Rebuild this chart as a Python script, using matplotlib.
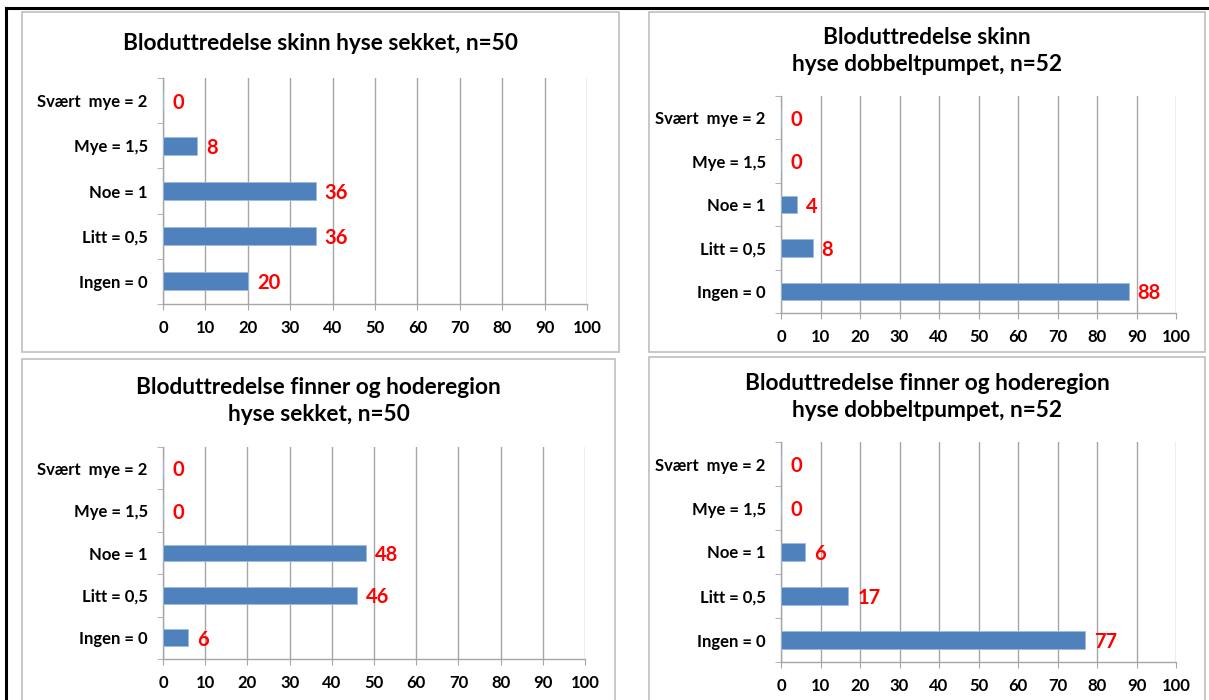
import matplotlib
matplotlib.use("Agg")
import matplotlib.pyplot as plt
from matplotlib.patches import Rectangle
from matplotlib.lines import Line2D

plt.rcParams['font.family'] = ['Lato', 'DejaVu Sans']

categories = ["Ingen = 0", "Litt = 0,5", "Noe = 1", "Mye = 1,5", "Svært  mye = 2"]
xticks = [0, 10, 20, 30, 40, 50, 60, 70, 80, 90, 100]

title1 = "Bloduttredelse skinn hyse sekket, n=50"
values1 = [20, 36, 36, 8, 0]
title2 = "Bloduttredelse skinn\nhyse dobbeltpumpet, n=52"
values2 = [88, 8, 4, 0, 0]
title3 = "Bloduttredelse finner og hoderegion\nhyse sekket, n=50"
values3 = [6, 46, 48, 0, 0]
title4 = "Bloduttredelse finner og hoderegion\nhyse dobbeltpumpet, n=52"
values4 = [77, 17, 6, 0, 0]

W, H = 1209, 700
fig = plt.figure(figsize=(W / 100, H / 100), dpi=100)
fig.patch.set_facecolor('white')

def fx(x):
    return x / W

def fy(y):
    return 1 - y / H

GRID = '#a6a6a6'
BOX = '#bfbfbf'
BAR = '#4f81bd'

# panel frames (left, top, right, bottom) in pixels
panels = [
    (22, 12, 619, 352),
    (649, 12, 1205, 352),
    (22, 359, 615, 705),
    (649, 357, 1205, 705),
]
for (x0, y0, x1, y1) in panels:
    fig.patches.append(Rectangle((fx(x0), fy(y1)), fx(x1) - fx(x0), fy(y0) - fy(y1),
                                 transform=fig.transFigure, fill=False,
                                 edgecolor=BOX, linewidth=1.2))

# outer black border (top and left)
fig.lines.append(Line2D([fx(6), 1.0], [fy(8), fy(8)], transform=fig.transFigure,
                        color='black', linewidth=2.2))
fig.lines.append(Line2D([fx(6), fx(6)], [fy(8), 0.0], transform=fig.transFigure,
                        color='black', linewidth=2.2))

specs = [
    # values, title, axes px (left, top, right, bottom), title centre (x, y)
    (values1, title1, (163, 78, 587, 304), ((22 + 619) / 2, 43)),
    (values2, title2, (781, 96, 1176, 313), ((649 + 1205) / 2, 51)),
    (values3, title3, (163, 447, 585, 659), ((22 + 615) / 2, 401)),
    (values4, title4, (781, 442, 1176, 662), ((649 + 1205) / 2, 397)),
]

for vals, title, (l, t, r, b), (tcx, tcy) in specs:
    ax = fig.add_axes([fx(l), fy(b), fx(r) - fx(l), fy(t) - fy(b)])
    ypos = list(range(len(categories)))
    ax.barh(ypos, vals, height=0.4, color=BAR, edgecolor='#9fbbdd', linewidth=0.6, zorder=3)
    ax.set_xlim(0, 100)
    ax.set_ylim(-0.5, len(categories) - 0.5)
    ax.set_xticks(xticks)
    ax.set_xticklabels([str(v) for v in xticks], fontsize=12, fontweight='bold')
    ax.set_yticks(ypos)
    ax.set_yticklabels(categories, fontsize=12, fontweight='bold')
    ax.set_yticks([i - 0.5 for i in range(len(categories) + 1)], minor=True)
    ax.tick_params(axis='y', which='major', length=0, pad=11)
    ax.tick_params(axis='y', which='minor', length=4, color=GRID, direction='out')
    ax.tick_params(axis='x', which='major', length=4.5, color=GRID, direction='out', pad=7)
    for sp in ['top', 'right']:
        ax.spines[sp].set_visible(False)
    for sp in ['left', 'bottom']:
        ax.spines[sp].set_color(GRID)
        ax.spines[sp].set_linewidth(1.0)
    ax.xaxis.grid(True, color=GRID, linewidth=1.0, zorder=0)
    ax.set_axisbelow(True)
    ax.set_facecolor('none')
    for y, v in zip(ypos, vals):
        ax.annotate(str(v), xy=(v, y), xytext=(6.5, -1.5), textcoords='offset points',
                    ha='left', va='center', color='#ff0000', fontsize=14.5,
                    fontweight='bold', zorder=4)
    fig.text(fx(tcx), fy(tcy), title, ha='center', va='center', fontsize=16.3,
             fontweight='bold', linespacing=1.3, color='black')

fig.savefig("out.png", dpi=100, facecolor='white')
